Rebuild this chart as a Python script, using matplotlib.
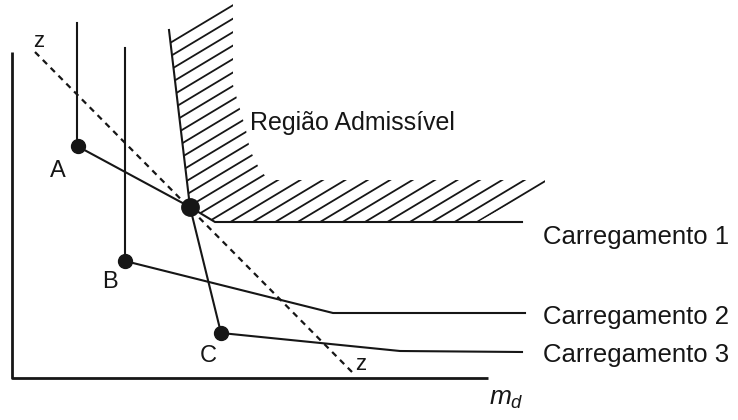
import numpy as np
import matplotlib.pyplot as plt
from matplotlib.patches import Polygon

plt.rcParams['font.family'] = ['Liberation Sans', 'DejaVu Sans']
plt.rcParams['mathtext.fontset'] = 'custom'
plt.rcParams['mathtext.it'] = 'Liberation Sans:italic'
plt.rcParams['mathtext.rm'] = 'Liberation Sans'

# Diagram coordinates (x to the right, y downwards)
axis_x = [12, 12, 488]
axis_y = [52, 378, 378]

# Load paths: vertical branch, design point, sloping branch, flat tail
load1_x = [77, 77, 190, 215, 522]
load1_y = [23, 146, 207, 222, 222]
load2_x = [125, 125, 333, 525]
load2_y = [48, 261, 313, 313]
load3_x = [169, 190, 221, 400, 522]
load3_y = [30, 207, 333, 351, 352]

# z-z line
z_x = [35, 352]
z_y = [52, 372]

# Marked points
pts_x = [78, 125, 221]
pts_y = [146, 261, 333]
pt_names = ["A", "B", "C"]
name_x = [58, 110, 208]
name_y = [177, 288, 362]
opt_x, opt_y = 190, 207

load_names = ["Carregamento 1", "Carregamento 2", "Carregamento 3"]
load_label_y = [244, 324, 362]

# Outline of the hatched (admissible) band
region_x = [169, 169, 190, 215, 478, 545, 545, 268, 258, 250, 246, 233, 233]
region_y = [35, 30, 207, 222, 222, 184, 180, 180, 166, 150, 130, 85, 0]

fig = plt.figure(figsize=(7.38, 4.2), dpi=100)
ax = fig.add_axes([0, 0, 1, 1])
ax.set_xlim(0, 738)
ax.set_ylim(420, 0)
ax.axis("off")

ink = "#161616"

ax.plot(axis_x, axis_y, color=ink, lw=2.0, solid_capstyle="butt")

# hatch lines of slope 0.6, clipped to the admissible band
clip = Polygon(np.column_stack([region_x, region_y]), closed=True,
               facecolor="none", edgecolor="none", transform=ax.transData)
ax.add_patch(clip)
slope = 0.6
c_first = 43 + slope * 170
c_last = 222 + slope * 477
xs = np.array([150, 560])
for c in np.linspace(c_first, c_last, 28):
    ln, = ax.plot(xs, c - slope * xs, color=ink, lw=1.3)
    ln.set_clip_path(clip)

for lx, ly in [(load1_x, load1_y), (load2_x, load2_y), (load3_x, load3_y)]:
    ax.plot(lx, ly, color=ink, lw=1.5, solid_joinstyle="miter")

ax.plot(z_x, z_y, color=ink, lw=1.6, dashes=(2.7, 2.3))
ax.text(39, 47, "z", fontsize=16, ha="center", va="baseline", color=ink)
ax.text(361, 370, "z", fontsize=16, ha="center", va="baseline", color=ink)

ax.plot(pts_x, pts_y, "o", color=ink, ms=10, mec=ink)
ax.plot(opt_x, opt_y, "o", color=ink, ms=12.5, mec=ink)
for n, tx, ty in zip(pt_names, name_x, name_y):
    ax.text(tx, ty, n, fontsize=17, ha="center", va="baseline", color=ink)

for n, ty in zip(load_names, load_label_y):
    ax.text(543, ty, n, fontsize=18.5, ha="left", va="baseline", color=ink)

ax.text(250, 130, "Região Admissível", fontsize=18, ha="left",
        va="baseline", color=ink)
ax.text(489, 405, r"$m_d$", fontsize=19, ha="left", va="baseline",
        color=ink)

fig.savefig("out.png", dpi=100, facecolor="white")
